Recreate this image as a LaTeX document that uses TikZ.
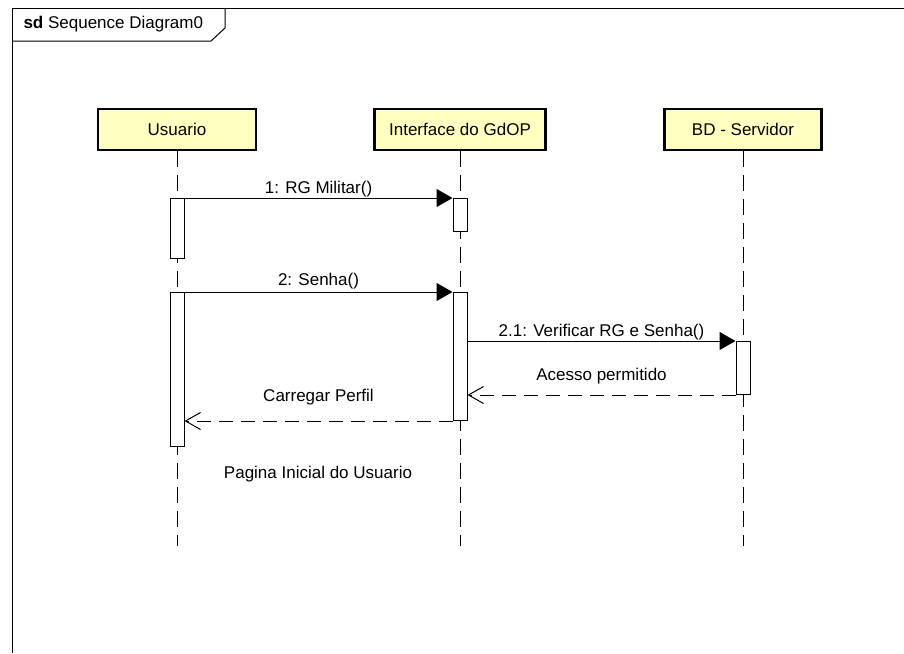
\documentclass[tikz,border=0pt]{standalone}
\usepackage{fontspec}
\setmainfont{Liberation Sans}
\usetikzlibrary{arrows.meta}

\definecolor{headfill}{RGB}{255,255,192}

\tikzset{
        HeadStyle/.style={draw, line width=2.4pt, fill=headfill, minimum height=41pt,
                inner sep=0pt, font=\fontsize{17}{20}\selectfont},
        ActStyle/.style={draw, line width=1pt, fill=white, minimum width=14pt,
                inner sep=0pt, anchor=north},
        LifeLine/.style={line width=1pt, dash pattern=on 16pt off 8pt},
        CallStyle/.style={line width=1pt, -{Triangle[length=16pt,width=18pt]}},
        ReplyStyle/.style={line width=1pt, dash pattern=on 14pt off 8pt,
                -{Straight Barb[length=15pt,width=17pt]}},
        LabelStyle/.style={midway, yshift=#1, font=\fontsize{17}{20}\selectfont}
}

\begin{document}
\begin{tikzpicture}[x=1pt, y=-1pt]
        \useasboundingbox (0,0) rectangle (904,653);
        % frame
        \draw[line width=1pt] (12,653) -- (12,8) -- (904,8);
        \draw[line width=1pt] (12,41) -- (211,41) -- (225,28) -- (225,8);
        \node[anchor=west, font=\fontsize{17}{20}\selectfont] (title) at (20,24)
                {\textbf{sd} Sequence Diagram0};
        % lifelines
        \node[HeadStyle, minimum width=158pt] (usr) at (177,129.5) {Usuario};
        \node[HeadStyle, minimum width=171pt] (gui) at (460,129.5) {Interface do GdOP};
        \node[HeadStyle, minimum width=157pt] (bd) at (743,129.5) {BD - Servidor};
        \coordinate (usrEnd) at (177,546);
        \coordinate (guiEnd) at (460,546);
        \coordinate (bdEnd) at (743,546);
        \draw[LifeLine] (usr.south) -- (usrEnd);
        \draw[LifeLine] (gui.south) -- (guiEnd);
        \draw[LifeLine] (bd.south) -- (bdEnd);
        % activations
        \node[ActStyle, minimum height=60pt] (usrA1) at (177,198) {};
        \node[ActStyle, minimum height=33pt] (guiA1) at (460,198) {};
        \node[ActStyle, minimum height=154pt] (usrA2) at (177,292) {};
        \node[ActStyle, minimum height=128pt] (guiA2) at (460,292) {};
        \node[ActStyle, minimum height=53pt] (bdA) at (743,341) {};
        % messages
        \draw[CallStyle] (usrA1.north east) -- (guiA1.north west)
                node[LabelStyle=9pt] (m1) {1: RG Militar()};
        \draw[CallStyle] (usrA2.north east) -- (guiA2.north west)
                node[LabelStyle=11pt] (m2) {2: Senha()};
        \draw[CallStyle] (guiA2.north east |- bdA.north) -- (bdA.north west)
                node[LabelStyle=9pt] (m21) {2.1: Verificar RG e Senha()};
        \draw[ReplyStyle] (bdA.south west) -- (guiA2.east |- bdA.south west)
                node[LabelStyle=19pt] (r1) {Acesso permitido};
        \draw[ReplyStyle] (guiA2.south west) -- (usrA2.east |- guiA2.south west)
                node[LabelStyle=24pt] (r2) {Carregar Perfil};
        \node[font=\fontsize{17}{20}\selectfont] (home) at (318,474) {Pagina Inicial do Usuario};
\end{tikzpicture}
\end{document}
